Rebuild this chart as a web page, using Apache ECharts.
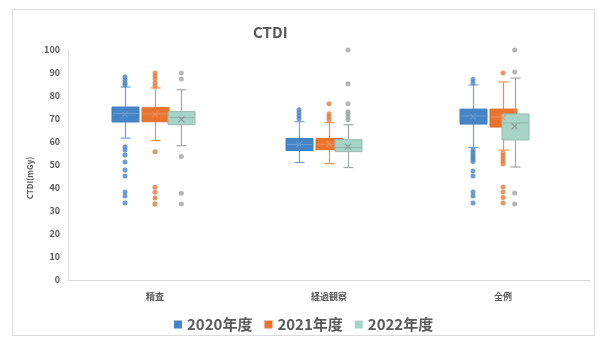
<!DOCTYPE html>
<html>
<head>
<meta charset="utf-8">
<script src="https://cdn.jsdelivr.net/npm/echarts@6/dist/echarts.min.js"></script>
<style>
  html, body { margin: 0; padding: 0; background: #ffffff; }
  #chart { width: 598px; height: 338px; }
</style>
</head>
<body>
<div id="chart"></div>
<script>
// Exam categories
const categories = ['精査', '経過観察', '全例'];
const yearNames = ['2020年度', '2021年度', '2022年度'];
const yTicks = [0, 10, 20, 30, 40, 50, 60, 70, 80, 90, 100];

// Box statistics per category: [lower whisker, Q1, median, Q3, upper whisker]
const box2020 = [[61.7, 68.7, 72.4, 75.2, 83.9], [51.1, 56.3, 58.9, 61.5, 68.8], [57.6, 67.8, 71.3, 74.3, 84.8]];
const box2021 = [[60.6, 68.8, 72.2, 74.9, 83.5], [50.6, 56.7, 59.0, 61.5, 68.4], [56.5, 66.5, 70.9, 74.3, 86.1]];
const box2022 = [[58.4, 67.5, 70.6, 73.2, 82.7], [48.9, 55.8, 57.6, 61.0, 67.5], [49.1, 60.9, 68.3, 72.2, 87.8]];

// Means (X markers)
const mean2020 = [72.0, 59.0, 71.0];
const mean2021 = [72.0, 59.2, 70.6];
const mean2022 = [69.8, 58.0, 66.8];

// Outliers: [category index, value]
const out2020 = [
  [0, 88.3], [0, 87.0], [0, 85.7], [0, 84.8],
  [0, 57.8], [0, 56.5], [0, 54.3], [0, 51.3], [0, 47.8], [0, 45.2], [0, 38.3], [0, 36.5], [0, 33.5],
  [1, 74.0], [1, 72.7], [1, 71.4], [1, 70.1],
  [2, 87.2], [2, 85.8],
  [2, 56.5], [2, 55.5], [2, 54.5], [2, 53.5], [2, 52.5], [2, 51.5], [2, 47.4], [2, 45.2], [2, 38.3], [2, 36.5], [2, 33.5]
];
const out2021 = [
  [0, 90.0], [0, 88.7], [0, 87.4], [0, 85.7], [0, 84.4],
  [0, 55.8], [0, 40.3], [0, 38.1], [0, 35.7], [0, 33.0],
  [1, 76.6], [1, 72.3], [1, 71.0], [1, 69.7],
  [2, 90.0],
  [2, 55.2], [2, 54.0], [2, 52.8], [2, 51.6], [2, 50.4], [2, 40.4], [2, 38.3], [2, 35.9], [2, 33.5]
];
const out2022 = [
  [0, 90.0], [0, 87.4], [0, 53.7], [0, 37.7], [0, 33.0],
  [1, 100.0], [1, 85.3], [1, 76.6], [1, 73.2], [1, 72.3], [1, 71.0], [1, 69.7],
  [2, 100.0], [2, 90.4], [2, 37.8], [2, 33.0]
];

const boxes = [box2020, box2021, box2022];
const means = [mean2020, mean2021, mean2022];
const outliers = [out2020, out2021, out2022];

// Styling per year
const fills = ['#4585C7', '#E8742F', '#A6D4C6'];
const borders = ['#3F7DBE', '#E06C28', '#98B8AE'];
const lines = ['#6EA2D6', '#EE9055', '#A3A8A6'];
const medians = ['#6B9FD4', '#EE9360', '#8FB5A9'];
const dots = ['#4A84C2', '#E57A3C', '#A0A4A2'];
const meanColors = ['#6B9FD4', '#EE9360', '#7F8C88'];

const textColor = '#595959';
const fontFamily = '"Noto Sans CJK JP", "Noto Sans", "Open Sans", sans-serif';

// Three overlaid grids shifted horizontally so each year sits beside the others
const plotLeft = 68, plotWidth = 522, plotTop = 50, plotHeight = 230;
const shifts = [-30, 0, 30];
const boxW = 27, capW = 10;

const grids = shifts.map(s => ({ left: plotLeft + s, width: plotWidth, top: plotTop, height: plotHeight, containLabel: false }));

const xAxes = shifts.map((s, i) => ({
  type: 'category',
  gridIndex: i,
  data: categories,
  show: i === 1,
  boundaryGap: true,
  axisLine: { show: true, lineStyle: { color: '#D9D9D9', width: 1 } },
  axisTick: { show: false },
  axisLabel: { color: textColor, fontSize: 9, fontWeight: 'bold', fontFamily: fontFamily, margin: 12 },
  splitLine: { show: false }
}));

const yAxes = shifts.map((s, i) => ({
  type: 'value',
  gridIndex: i,
  min: 0, max: 100, interval: 10,
  show: i === 1,
  axisLine: { show: true, lineStyle: { color: '#D9D9D9', width: 1 } },
  axisTick: { show: false },
  axisLabel: { color: textColor, fontSize: 9, fontWeight: 'bold', fontFamily: fontFamily, margin: 8,
    formatter: v => (yTicks.indexOf(v) >= 0 ? String(v) : '') },
  splitLine: { show: false }
}));

// Box-and-whisker drawn through the axis scales, with short whisker caps
function makeBoxRenderer(i) {
  return function (params, api) {
    const x = api.value(0);
    const pLo = api.coord([x, api.value(1)]);
    const pQ1 = api.coord([x, api.value(2)]);
    const pMed = api.coord([x, api.value(3)]);
    const pQ3 = api.coord([x, api.value(4)]);
    const pHi = api.coord([x, api.value(5)]);
    const cx = Math.round(pQ1[0]) + 0.5;
    const lineStyle = { stroke: lines[i], lineWidth: 1.2 };
    return {
      type: 'group',
      children: [
        { type: 'line', shape: { x1: cx, y1: pHi[1], x2: cx, y2: pQ3[1] }, style: lineStyle },
        { type: 'line', shape: { x1: cx, y1: pQ1[1], x2: cx, y2: pLo[1] }, style: lineStyle },
        { type: 'line', shape: { x1: cx - capW / 2, y1: pHi[1], x2: cx + capW / 2, y2: pHi[1] }, style: lineStyle },
        { type: 'line', shape: { x1: cx - capW / 2, y1: pLo[1], x2: cx + capW / 2, y2: pLo[1] }, style: lineStyle },
        { type: 'rect', shape: { x: cx - boxW / 2, y: pQ3[1], width: boxW, height: pQ1[1] - pQ3[1] },
          style: { fill: fills[i], stroke: borders[i], lineWidth: 1 } },
        { type: 'line', shape: { x1: cx - boxW / 2 + 1, y1: pMed[1], x2: cx + boxW / 2 - 1, y2: pMed[1] },
          style: { stroke: medians[i], lineWidth: 1 } }
      ]
    };
  };
}

const series = [];
yearNames.forEach((name, i) => {
  series.push({
    name: name,
    type: 'custom',
    xAxisIndex: i, yAxisIndex: i,
    data: boxes[i].map((b, k) => [k].concat(b)),
    encode: { x: 0, y: [1, 2, 3, 4, 5] },
    renderItem: makeBoxRenderer(i),
    itemStyle: { color: fills[i] },
    silent: true,
    z: 2
  });
});
yearNames.forEach((name, i) => {
  series.push({
    name: name,
    type: 'scatter',
    xAxisIndex: i, yAxisIndex: i,
    data: outliers[i],
    symbol: 'circle',
    symbolSize: 5,
    itemStyle: { color: dots[i] },
    emphasis: { disabled: true },
    z: 3
  });
  series.push({
    name: name,
    type: 'scatter',
    xAxisIndex: i, yAxisIndex: i,
    data: means[i].map((v, k) => [k, v]),
    symbol: 'path://M0,0L10,10M10,0L0,10',
    symbolSize: 6,
    itemStyle: { color: 'none', borderColor: meanColors[i], borderWidth: 1.1 },
    emphasis: { disabled: true },
    z: 4
  });
});

const chart = echarts.init(document.getElementById('chart'), null, { renderer: 'canvas' });
chart.setOption({
  backgroundColor: '#ffffff',
  animation: false,
  textStyle: { fontFamily: fontFamily },
  title: {
    text: 'CTDI',
    left: 248, top: 20,
    textStyle: { color: textColor, fontSize: 15, fontWeight: 'bold', fontFamily: fontFamily }
  },
  legend: {
    data: yearNames.map((n, i) => ({ name: n, itemStyle: { color: fills[i], borderWidth: 0 } })),
    left: 169, top: 312,
    icon: 'rect',
    itemWidth: 8, itemHeight: 8,
    itemGap: 12,
    textStyle: { color: textColor, fontSize: 15, fontWeight: 'bold', fontFamily: fontFamily },
    selectedMode: false
  },
  graphic: [
    {
      type: 'rect',
      shape: { x: 12.5, y: 9.5, width: 582, height: 326 },
      style: { fill: 'none', stroke: '#DADADA', lineWidth: 1 },
      silent: true, z: -1
    },
    {
      type: 'text',
      x: 30, y: 178,
      rotation: Math.PI / 2,
      style: { text: 'CTDI(mGy)', fill: textColor, fontSize: 8, fontWeight: 'bold', fontFamily: fontFamily,
        align: 'center', verticalAlign: 'middle' },
      silent: true
    }
  ],
  grid: grids,
  xAxis: xAxes,
  yAxis: yAxes,
  series: series
});
</script>
</body>
</html>
